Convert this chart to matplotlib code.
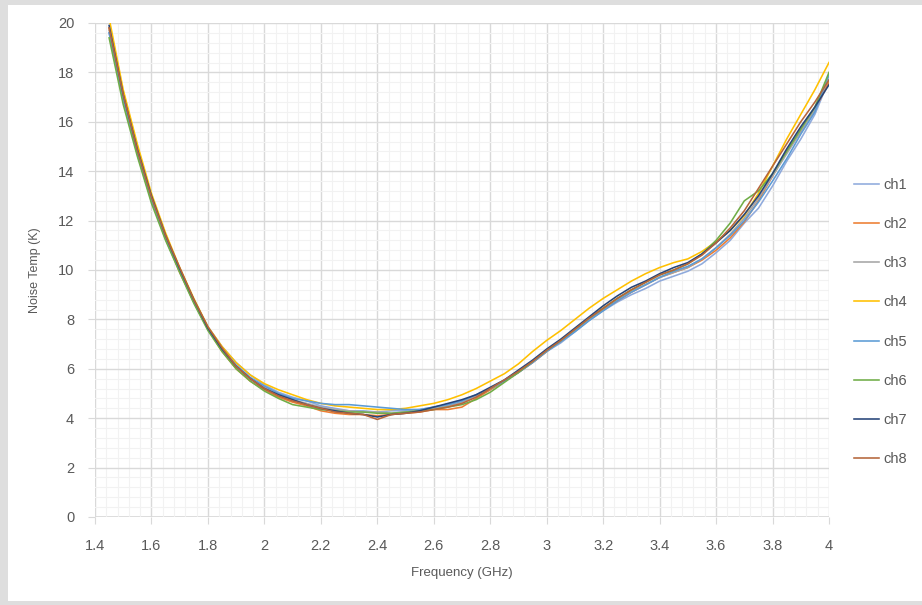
import matplotlib
matplotlib.use("Agg")
import matplotlib.pyplot as plt
from matplotlib.patches import Rectangle
from matplotlib.ticker import MultipleLocator

plt.rcParams['font.family'] = ['Liberation Sans', 'DejaVu Sans']

freq = [1.45, 1.50, 1.55, 1.60, 1.65, 1.70, 1.75, 1.80, 1.85, 1.90,
        1.95, 2.00, 2.05, 2.10, 2.15, 2.20, 2.25, 2.30, 2.35, 2.40,
        2.45, 2.50, 2.55, 2.60, 2.65, 2.70, 2.75, 2.80, 2.85, 2.90,
        2.95, 3.00, 3.05, 3.10, 3.15, 3.20, 3.25, 3.30, 3.35, 3.40,
        3.45, 3.50, 3.55, 3.60, 3.65, 3.70, 3.75, 3.80, 3.85, 3.90,
        3.95, 4.00]

ch1 = [19.6, 16.9, 14.7, 12.8, 11.3, 9.95, 8.8, 7.7, 6.9, 6.25,
       5.75, 5.35, 5.05, 4.85, 4.7, 4.5, 4.4, 4.3, 4.3, 4.25,
       4.3, 4.3, 4.35, 4.45, 4.55, 4.7, 4.9, 5.15, 5.5, 5.85,
       6.25, 6.7, 7.05, 7.5, 7.95, 8.35, 8.7, 9.0, 9.25, 9.55,
       9.75, 9.95, 10.25, 10.7, 11.2, 11.9, 12.5, 13.4, 14.4, 15.3,
       16.3, 17.7]
ch2 = [19.8, 17.1, 14.8, 12.9, 11.3, 9.9, 8.7, 7.6, 6.7, 6.0,
       5.5, 5.15, 4.85, 4.65, 4.5, 4.3, 4.2, 4.15, 4.15, 4.1,
       4.15, 4.2, 4.25, 4.35, 4.35, 4.45, 4.8, 5.15, 5.5, 5.85,
       6.25, 6.7, 7.15, 7.55, 8.0, 8.4, 8.75, 9.1, 9.4, 9.7,
       9.9, 10.1, 10.4, 10.8, 11.3, 11.95, 12.8, 13.8, 14.8, 15.6,
       16.5, 17.6]
ch3 = [19.7, 17.0, 14.8, 12.9, 11.4, 10.05, 8.75, 7.65, 6.8, 6.1,
       5.6, 5.25, 4.95, 4.75, 4.6, 4.45, 4.35, 4.3, 4.25, 4.25,
       4.2, 4.25, 4.3, 4.4, 4.5, 4.65, 4.9, 5.2, 5.5, 5.9,
       6.3, 6.75, 7.1, 7.55, 8.0, 8.45, 8.8, 9.15, 9.4, 9.7,
       9.9, 10.1, 10.45, 10.9, 11.45, 12.1, 12.9, 13.8, 14.7, 15.6,
       16.5, 17.9]
ch4 = [20.2, 17.3, 15.1, 13.1, 11.5, 10.1, 8.85, 7.7, 6.9, 6.25,
       5.75, 5.4, 5.15, 4.95, 4.75, 4.6, 4.5, 4.45, 4.4, 4.35,
       4.35, 4.4, 4.5, 4.6, 4.75, 4.95, 5.2, 5.5, 5.8, 6.2,
       6.7, 7.15, 7.55, 8.0, 8.45, 8.85, 9.2, 9.55, 9.85, 10.1,
       10.3, 10.45, 10.75, 11.15, 11.6, 12.2, 13.1, 14.2, 15.3, 16.3,
       17.3, 18.4]
ch5 = [19.6, 16.9, 14.7, 12.8, 11.25, 9.95, 8.7, 7.6, 6.8, 6.15,
       5.65, 5.3, 5.0, 4.8, 4.7, 4.6, 4.55, 4.55, 4.5, 4.45,
       4.4, 4.35, 4.35, 4.45, 4.55, 4.7, 4.95, 5.2, 5.5, 5.85,
       6.25, 6.7, 7.1, 7.5, 7.95, 8.35, 8.75, 9.1, 9.4, 9.7,
       9.95, 10.15, 10.45, 10.9, 11.4, 12.0, 12.75, 13.6, 14.5, 15.5,
       16.4, 17.9]
ch6 = [19.4, 16.7, 14.6, 12.7, 11.2, 9.9, 8.65, 7.55, 6.7, 6.0,
       5.5, 5.1, 4.8, 4.55, 4.45, 4.35, 4.3, 4.25, 4.25, 4.2,
       4.2, 4.25, 4.3, 4.35, 4.45, 4.55, 4.75, 5.05, 5.45, 5.85,
       6.3, 6.75, 7.15, 7.6, 8.05, 8.45, 8.85, 9.2, 9.5, 9.8,
       10.0, 10.25, 10.65, 11.2, 11.9, 12.8, 13.2, 13.9, 14.8, 15.7,
       16.6, 18.0]
ch7 = [19.9, 17.1, 14.9, 13.0, 11.4, 10.05, 8.8, 7.65, 6.8, 6.1,
       5.6, 5.2, 4.95, 4.75, 4.55, 4.4, 4.3, 4.2, 4.15, 4.05,
       4.15, 4.2, 4.3, 4.45, 4.6, 4.75, 4.95, 5.25, 5.55, 5.95,
       6.35, 6.8, 7.2, 7.65, 8.1, 8.55, 8.95, 9.3, 9.55, 9.85,
       10.1, 10.3, 10.65, 11.1, 11.6, 12.25, 13.0, 13.9, 14.9, 15.8,
       16.6, 17.5]
ch8 = [19.8, 17.1, 14.85, 12.95, 11.4, 10.1, 8.8, 7.7, 6.85, 6.1,
       5.6, 5.2, 4.9, 4.7, 4.55, 4.4, 4.25, 4.2, 4.15, 3.95,
       4.15, 4.2, 4.25, 4.35, 4.45, 4.6, 4.85, 5.2, 5.55, 5.9,
       6.3, 6.75, 7.15, 7.6, 8.05, 8.45, 8.85, 9.2, 9.5, 9.8,
       10.0, 10.25, 10.6, 11.1, 11.7, 12.4, 13.3, 14.2, 15.1, 16.0,
       16.8, 17.7]

labels = ['ch1', 'ch2', 'ch3', 'ch4', 'ch5', 'ch6', 'ch7', 'ch8']
colors = ['#8FAADC', '#ED7D31', '#A5A5A5', '#FFC000',
          '#5B9BD5', '#70AD47', '#264478', '#B5653A']
series = [ch1, ch2, ch3, ch4, ch5, ch6, ch7, ch8]

W, H = 922, 605
fig = plt.figure(figsize=(W / 100, H / 100), dpi=100)
fig.patch.set_facecolor('#dedede')
fig.add_artist(Rectangle((8 / W, (H - 601) / H), (W - 8) / W, (601 - 5) / H,
                         transform=fig.transFigure, facecolor='white',
                         edgecolor='none', zorder=0))

ax = fig.add_axes([95 / W, 1 - 517 / H, (829 - 95) / W, (517 - 23) / H])
ax.set_facecolor('white')

for y, lab, c in zip(series, labels, colors):
    ax.plot(freq, y, color=c, lw=1.15, label=lab, zorder=3)

ax.set_xlim(1.4, 4.0)
ax.set_ylim(0, 20)
ax.xaxis.set_major_locator(MultipleLocator(0.2))
ax.xaxis.set_minor_locator(MultipleLocator(0.04))
ax.yaxis.set_major_locator(MultipleLocator(2))
ax.yaxis.set_minor_locator(MultipleLocator(0.4))
ax.set_xticks([1.4 + 0.2 * i for i in range(14)])
ax.set_xticklabels(['1.4', '1.6', '1.8', '2', '2.2', '2.4', '2.6', '2.8',
                    '3', '3.2', '3.4', '3.6', '3.8', '4'])
ax.set_yticks(list(range(0, 21, 2)))

ax.grid(which='major', color='#d9d9d9', lw=1.0, zorder=1)
ax.grid(which='minor', color='#f2f2f2', lw=0.8, zorder=0.5)
for s in ax.spines.values():
    s.set_visible(False)
ax.axhline(0, color='#d9d9d9', lw=1.2, zorder=1.5)

ax.tick_params(axis='x', which='major', length=5, color='#d9d9d9',
               labelcolor='#595959', labelsize=10.5, pad=11)
ax.tick_params(axis='y', which='major', length=5, color='#d9d9d9',
               labelcolor='#595959', labelsize=10.5, pad=10)
ax.tick_params(which='minor', length=0)

ax.set_xlabel('Frequency (GHz)', fontsize=9.5, color='#595959', labelpad=10)
ax.set_ylabel('Noise Temp (K)', fontsize=9, color='#595959', labelpad=12)

leg = fig.legend(loc='center left', bbox_to_anchor=(848 / W, 1 - 322 / H),
                 frameon=False, fontsize=10.5, labelspacing=1.73,
                 handlelength=1.75, handletextpad=0.3, borderaxespad=0)
for t in leg.get_texts():
    t.set_color('#595959')

fig.savefig('out.png', dpi=100, facecolor=fig.get_facecolor())
